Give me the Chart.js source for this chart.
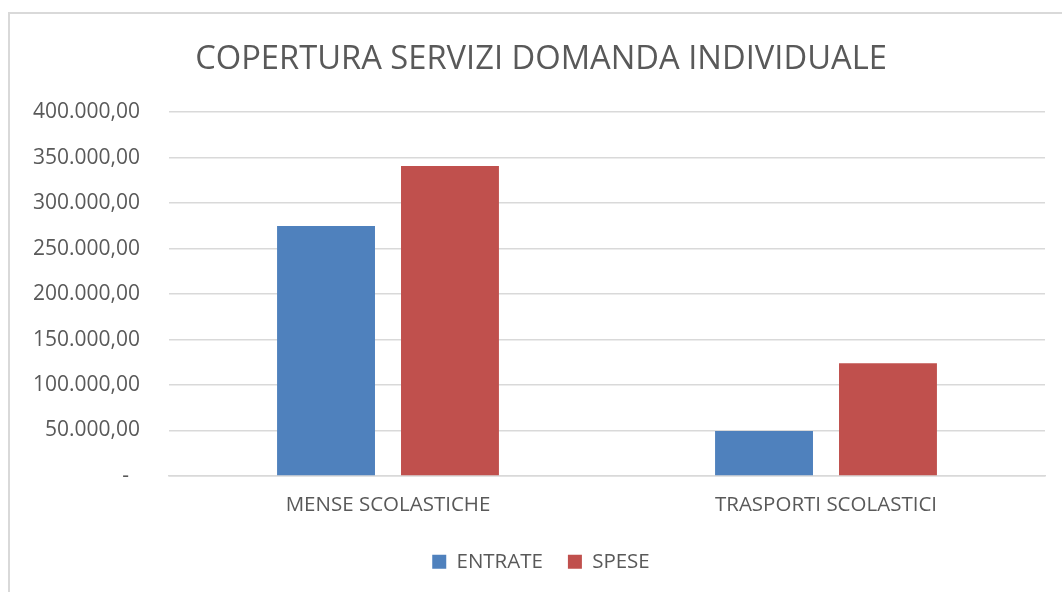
<!DOCTYPE html>
<html>
<head>
<meta charset="utf-8">
<script src="https://cdn.jsdelivr.net/npm/chart.js@4.4.0/dist/chart.umd.min.js"></script>
<style>
  html, body { margin: 0; padding: 0; background: #fff; overflow: hidden; width: 1062px; height: 592px; }
  canvas { position: absolute; left: 0; top: 0; }
  #frame { position: absolute; left: 8px; top: 12px; width: 1200px; height: 700px; border-left: 2px solid #d9d9d9; border-top: 2px solid #d9d9d9; pointer-events: none; }
</style>
</head>
<body>
<canvas id="c" width="1082" height="592"></canvas>
<div id="frame"></div>
<script>
const titleText = 'COPERTURA SERVIZI DOMANDA INDIVIDUALE';
const categories = ['MENSE SCOLASTICHE', 'TRASPORTI SCOLASTICI'];
const entrate = [275000, 49500];
const spese = [341000, 124000];
const seriesNames = ['ENTRATE', 'SPESE'];
const yTicks = [0, 50000, 100000, 150000, 200000, 250000, 300000, 350000, 400000];

const FONT = "'Open Sans', sans-serif";
const TXT = '#595959';

function fmt(v) {
  if (v === 0) return '-  ';
  const s = Math.round(v).toString().replace(/\B(?=(\d{3})+(?!\d))/g, '.');
  return s + ',00';
}

new Chart(document.getElementById('c'), {
  type: 'bar',
  data: {
    labels: categories,
    datasets: [
      { label: seriesNames[0], data: entrate, backgroundColor: '#4F81BD' },
      { label: seriesNames[1], data: spese, backgroundColor: '#C0504D' }
    ]
  },
  options: {
    responsive: false,
    animation: false,
    devicePixelRatio: 1,
    layout: { padding: { left: 0, right: 0, top: 20, bottom: 10 } },
    categoryPercentage: 0.566,
    barPercentage: 0.79,
    plugins: {
      title: {
        display: true,
        text: titleText,
        color: TXT,
        font: { family: FONT, size: 32.7, weight: 'normal' },
        padding: { top: 20, bottom: 33 }
      },
      legend: {
        position: 'bottom',
        labels: {
          color: TXT,
          font: { family: FONT, size: 20.5 },
          boxWidth: 14,
          boxHeight: 14,
          padding: 25
        }
      },
      tooltip: { enabled: false }
    },
    scales: {
      x: {
        grid: { display: false },
        border: { display: true, color: '#d9d9d9', width: 1.5 },
        ticks: { color: TXT, font: { family: FONT, size: 20.5 }, padding: 9, maxRotation: 0 }
      },
      y: {
        min: 0,
        max: 400000,
        afterBuildTicks: (axis) => { axis.ticks = yTicks.map(v => ({ value: v })); },
        afterFit: (axis) => { axis.width = 169; },
        grid: { color: '#d9d9d9', lineWidth: 1.5, drawTicks: false },
        border: { display: false },
        ticks: { color: TXT, font: { family: FONT, size: 21 }, padding: 29, callback: (v) => fmt(v) }
      },
      spacer: {
        type: 'linear',
        position: 'right',
        display: true,
        afterFit: (axis) => { axis.width = 37; },
        grid: { display: false, drawTicks: false },
        border: { display: false },
        ticks: { display: false }
      }
    }
  }
});
</script>
</body>
</html>
